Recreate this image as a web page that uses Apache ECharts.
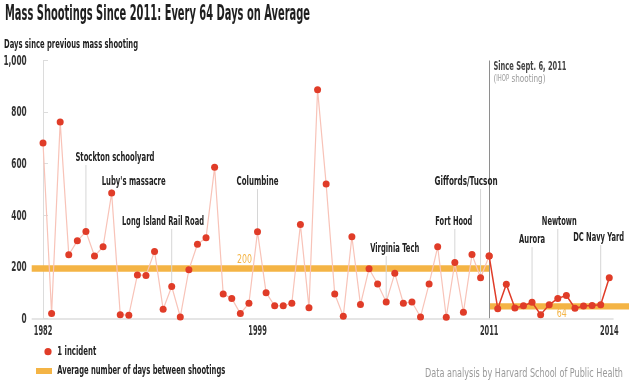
<!DOCTYPE html>
<html><head><meta charset="utf-8">
<script src="https://cdn.jsdelivr.net/npm/echarts@6/dist/echarts.min.js"></script>
<style>html,body{margin:0;padding:0;background:#fff}#c{width:633px;height:383px}</style>
</head><body><div id="c"></div>
<script>
// ---- data ----
const days = [680,19,762,247,301,337,242,278,486,15,13,169,167,260,36,124,6,189,288,313,586,
  95,78,19,59,336,100,49,49,59,364,42,887,521,95,9,317,54,193,134,64,175,59,64,6,134,278,5,217,24,248,158,
  242,38,133,41,49,63,15,53,78,89,40,48,50,53,158];
const splitIndex = 52;                     // Sept. 6, 2011 (IHOP shooting)
const yearLabels = ['1982','1999','2011','2014'];
const yearIndex  = [0, 25, 52, 66];
const yTicks = [0,200,400,600,800,1000];
const avgValues = [200, 64];
const avgBands  = [[181,206],[35,59]];     // band extents
const annoText  = ['Stockton schoolyard',"Luby's massacre",'Long Island Rail Road','Columbine','Virginia Tech',
                   'Fort Hood','Giffords/Tucson','Aurora','Newtown','DC Navy Yard'];
const annoIndex = [5, 8, 15, 25, 40, 48, 51, 57, 60, 65];

// ---- layout ----
const FAM = "'Liberation Sans Narrow','DejaVu Sans Condensed','Roboto Condensed',sans-serif";
const X_MIN = -1.32, X_MAX = 68.3;
const annoLayout = [
  {y:622, dx:29, w:79},{y:529, dx:22, w:64},{y:374, dx:-8.7, w:82},{y:529, dx:0, w:42},
  {y:269, dx:8.5, w:49},{y:374, dx:-1, w:37},{y:529, dx:-14.5, w:63},{y:304, dx:0, w:26},
  {y:374, dx:1.5, w:35},{y:312, dx:-2, w:51}
];
const cv = document.createElement('canvas').getContext('2d');
function measure(t, font){ cv.font = font; return cv.measureText(t).width; }
function fitText(t, font, w){ return w / measure(t, font); }
function gText(t, x, y, w, size, weight, color){
  const font = weight + ' ' + size + 'px ' + FAM;
  return {type:'text', x:x, y:y, scaleX: fitText(t, font, w), silent:true,
    style:{text:t, font:font, fill:color, align:'left', verticalAlign:'middle'}};
}

const RED = '#e03c28', PINK = '#f8c3b8', ORANGE = '#f4b445';
const yFont = 'bold 14.5px ' + FAM, xFont = 'bold 13.5px ' + FAM, bandFont = '12.5px ' + FAM;
const yScale = fitText('1,000', yFont, 23.3);
const xScale = fitText('1982', xFont, 18.5);
const fmtY = v => v.toLocaleString('en-US');

const chart = echarts.init(document.getElementById('c'), null, {renderer:'canvas'});

const s1 = days.slice(0, splitIndex+1).map((v,i)=>[i, v]);
const s2 = days.slice(splitIndex).map((v,i)=>[i+splitIndex, v]);
const annoFont = 'bold 12.5px ' + FAM;
const noteFontA = '11px ' + FAM, noteFontB = '8px ' + FAM;
const noteW = measure('(', noteFontA) + measure('IHOP', noteFontB) + measure(' shooting)', noteFontA);

function textEl(t, x, y, font, color, align, sx){
  return {type:'text', x:x, y:y, scaleX:sx,
    style:{text:t, font:font, fill:color, align:align, verticalAlign:'middle'}};
}

const option = {
  animation: false,
  grid: {left: 31.7, right: 4, top: 60.5, bottom: 64.5},
  xAxis: {
    type: 'value', min: X_MIN, max: X_MAX,
    axisLine: {show:false}, splitLine: {show:false}, axisTick: {show:false},
    axisLabel: {show:false}
  },
  yAxis: {
    type: 'value', min: 0, max: 1000, interval: 200,
    axisLine: {show:true, lineStyle:{color:'#dcdcdc', width:1}},
    axisTick: {show:true, inside:true, length:5, lineStyle:{color:'#dcdcdc'}},
    splitLine: {show:false}, axisLabel: {show:false}
  },
  series: [
    {
      type:'line', data: s1, symbol:'circle', symbolSize: 7, z: 3,
      lineStyle:{color: PINK, width: 1.2}, itemStyle:{color: RED},
      markArea: {silent:true, z: 1, itemStyle:{color: ORANGE},
        data: [
          [{coord:[X_MIN, avgBands[0][0]]}, {coord:[splitIndex, avgBands[0][1]]}],
          [{coord:[splitIndex, avgBands[1][0]]}, {coord:[X_MAX, avgBands[1][1]]}]
        ]},
      markLine: {silent:true, symbol:'none', animation:false, z: 2, label:{show:false},
        data: [
          [{coord:[splitIndex, 0], lineStyle:{color:'#8e8e8e', width:1, type:'solid'}}, {coord:[splitIndex, 1000]}],
          [{coord:[X_MIN, 0], lineStyle:{color:'#dcdcdc', width:1.5, type:'solid'}}, {coord:[66.5, 0]}]
        ]}
    },
    {
      type:'line', data: s2, symbol:'circle', symbolSize: 7, z: 4,
      lineStyle:{color: RED, width: 1.5}, itemStyle:{color: RED}
    },
    { // event annotations
      type:'custom', z: 2, silent: true,
      data: annoIndex.map((idx,k)=>[idx, days[idx], k]),
      renderItem: function(params, api){
        const k = params.dataIndex, L = annoLayout[k];
        const p = api.coord([api.value(0), api.value(1)]);
        const ty = api.coord([0, L.y])[1];
        const cx = p[0] + L.dx;
        const s = fitText(annoText[k], annoFont, L.w);
        const children = [];
        if (p[1] - (ty + 7) > 2) {
          children.push({type:'line', shape:{x1:p[0], y1:ty+7, x2:p[0], y2:p[1]},
            style:{stroke:'#d6d6d6', lineWidth:1}});
        }
        children.push(textEl(annoText[k], cx - L.w/2, ty, annoFont, '#222', 'left', s));
        return {type:'group', children};
      }
    },
    { // y tick labels
      type:'custom', silent:true, z: 5,
      data: yTicks.map(v=>[X_MIN, v]),
      renderItem: function(params, api){
        const p = api.coord([api.value(0), api.value(1)]);
        return textEl(fmtY(api.value(1)), p[0]-5, p[1]+0.5, yFont, '#333', 'right', yScale);
      }
    },
    { // x tick labels (years)
      type:'custom', silent:true, z: 5,
      data: yearIndex.map((idx,k)=>[idx, 0, k]),
      renderItem: function(params, api){
        const p = api.coord([api.value(0), api.value(1)]);
        const t = yearLabels[params.dataIndex];
        const w = measure(t, xFont) * xScale;
        return textEl(t, p[0] - w/2, p[1]+12.5, xFont, '#333', 'left', xScale);
      }
    },
    { // average labels
      type:'custom', silent:true, z: 5,
      data: avgValues.map((v,k)=>[k===0 ? X_MIN : splitIndex, k===0 ? avgBands[0][1] : avgBands[1][0], k]),
      renderItem: function(params, api){
        const k = params.dataIndex;
        const p = api.coord([api.value(0), api.value(1)]);
        const t = String(avgValues[k]);
        const sx = k===0 ? fitText(t, bandFont, 15) : fitText(t, bandFont, 10);
        const w = measure(t, bandFont) * sx;
        const cx = k===0 ? p[0] + 212.8 : p[0] + 72.7;
        const cy = k===0 ? p[1] - 5.5 : p[1] + 4.5;
        return textEl(t, cx - w/2, cy, bandFont, ORANGE, 'left', sx);
      }
    }
  ],
  graphic: [
    gText('Mass Shootings Since 2011: Every 64 Days on Average', 5, 14.5, 305, 22, 'bold', '#1e1e1e'),
    gText('Days since previous mass shooting', 4, 45, 134, 12, 'bold', '#1e1e1e'),
    gText('Since Sept. 6, 2011', 493.5, 66.5, 73, 12, 'bold', '#444'),
    {type:'text', x:493.5, y:79, scaleX: 52/noteW, silent:true,
      style:{text:'{a|(}{b|IHOP}{a| shooting)}', align:'left', verticalAlign:'middle',
        rich:{a:{font:noteFontA, fill:'#9a9a9a'}, b:{font:noteFontB, fill:'#9a9a9a'}}}},
    {type:'circle', shape:{cx:48, cy:351.7, r:3.6}, style:{fill:RED}, silent:true},
    gText('1 incident', 57.3, 351.5, 39, 12.5, 'bold', '#222'),
    {type:'rect', shape:{x:36, y:368, width:16, height:6}, style:{fill:ORANGE}, silent:true},
    gText('Average number of days between shootings', 57.3, 370.5, 168, 12.5, 'bold', '#222'),
    gText('Data analysis by Harvard School of Public Health', 425, 373.3, 198, 12.5, 'normal', '#9a9a9a')
  ]
};
chart.setOption(option);
</script>
</body></html>
